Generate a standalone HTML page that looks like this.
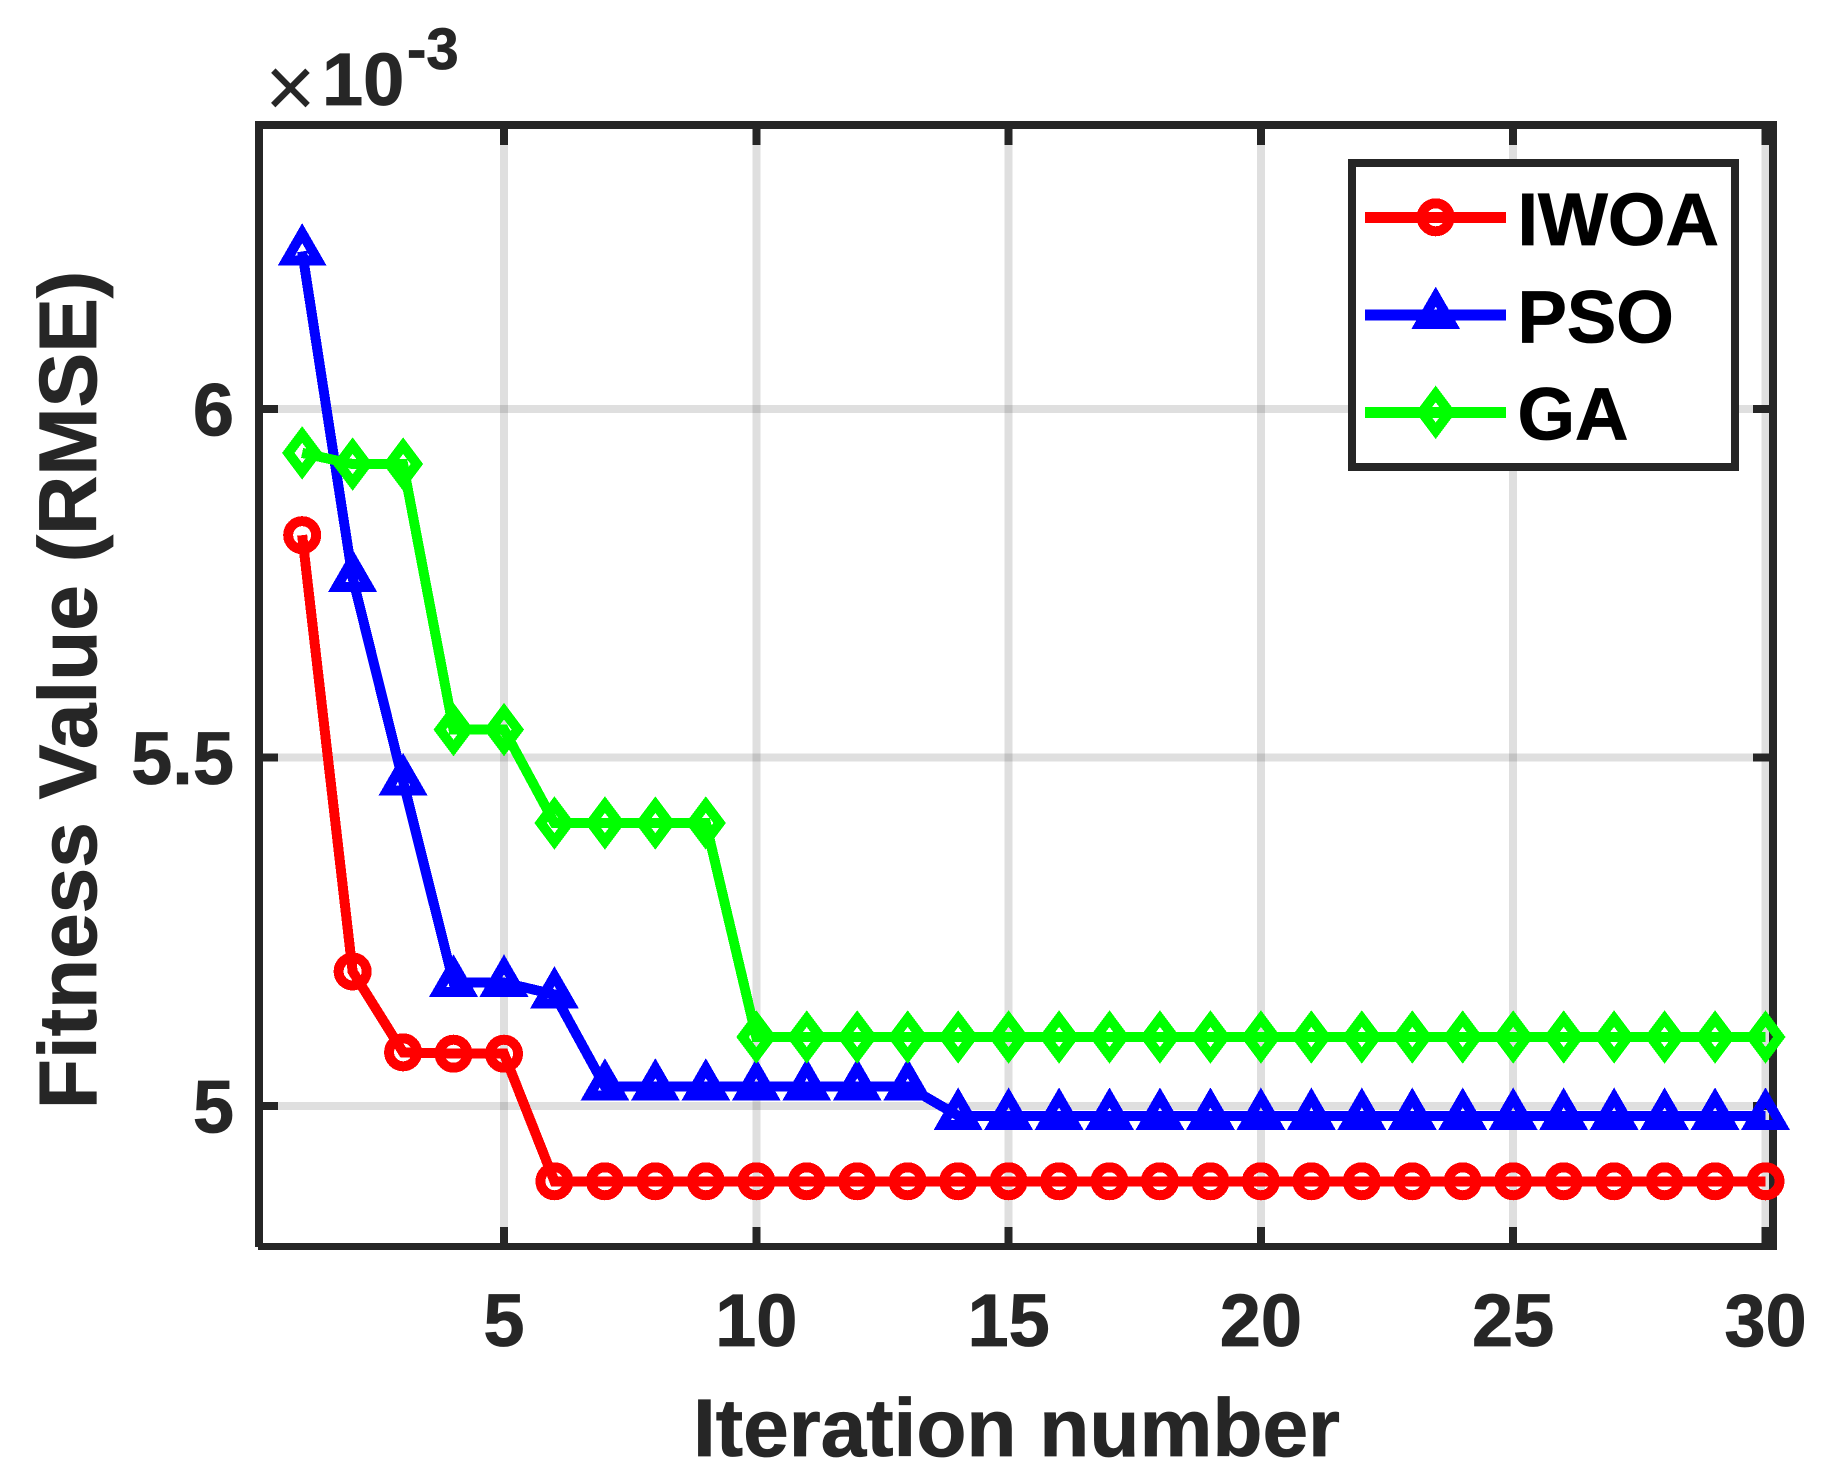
<!DOCTYPE html>
<html lang="en">
<head>
<meta charset="utf-8">
<title>Fitness Value vs Iteration number</title>
<style>
html,body{margin:0;padding:0;background:#fff;width:1831px;height:1480px;overflow:hidden}
svg{display:block}
text{font-family:"Liberation Sans",Arial,sans-serif;font-weight:bold;fill:#262626;stroke:#262626;stroke-width:0.8px}
</style>
</head>
<body>
<svg id="chart" xmlns="http://www.w3.org/2000/svg" width="1831" height="1480" viewBox="0 0 1831 1480">
  <g id="grid"></g>
  <g id="axes"></g>
  <g id="series"></g>
  <text x="1016.5" y="1456" font-size="82" text-anchor="middle">Iteration number</text>
  <text transform="translate(96 690) rotate(-90)" font-size="82" text-anchor="middle">Fitness Value (RMSE)</text>
  <text x="265" y="117" font-size="87" style="font-weight:normal;stroke:none">×</text>
  <text x="322" y="105" font-size="74">10</text>
  <text x="407" y="69" font-size="58">-3</text>
  <g id="legend"></g>
</svg>
<script>
const iterations = [1,2,3,4,5,6,7,8,9,10,11,12,13,14,15,16,17,18,19,20,21,22,23,24,25,26,27,28,29,30];
const iwoaValues = [5.819,5.193,5.077,5.075,5.075,4.892,4.892,4.892,4.892,4.892,4.892,4.892,4.892,4.892,4.892,4.892,4.892,4.892,4.892,4.892,4.892,4.892,4.892,4.892,4.892,4.892,4.892,4.892,4.892,4.892];
const psoValues = [6.226,5.758,5.466,5.177,5.177,5.160,5.028,5.028,5.028,5.028,5.028,5.028,5.028,4.986,4.986,4.986,4.986,4.986,4.986,4.986,4.986,4.986,4.986,4.986,4.986,4.986,4.986,4.986,4.986,4.986];
const gaValues = [5.937,5.921,5.921,5.540,5.540,5.406,5.406,5.406,5.406,5.099,5.099,5.099,5.099,5.099,5.099,5.099,5.099,5.099,5.099,5.099,5.099,5.099,5.099,5.099,5.099,5.099,5.099,5.099,5.099,5.099];
const xTickValues = [5,10,15,20,25,30];
const xTickLabels = ['5','10','15','20','25','30'];
const yTickValues = [5,5.5,6];
const yTickLabels = ['5','5.5','6'];
const legendLabels = ['IWOA','PSO','GA'];

const NS = 'http://www.w3.org/2000/svg';
const INK = '#262626';
const xPx = v => 504 + (v - 5) * 50.46;
const yPx = v => 1106 - (v - 5) * 697;

function make(parent, tag, attrs, text) {
  const el = document.createElementNS(NS, tag);
  for (const k in attrs) el.setAttribute(k, attrs[k]);
  if (text !== undefined) el.textContent = text;
  parent.appendChild(el);
  return el;
}
function drawMarker(parent, kind, cx, cy, color) {
  const base = {fill:'none', stroke:color, 'stroke-width':10, 'stroke-miterlimit':10, 'shape-rendering':'crispEdges'};
  if (kind === 'circle') {
    return make(parent, 'circle', Object.assign({cx:cx, cy:cy, r:14}, base));
  }
  const pts = kind === 'triangle'
    ? [[0,-18.3],[15.8,9.14],[-15.8,9.14]]
    : [[0,-18.4],[13.8,0],[0,18.4],[-13.8,0]];
  return make(parent, 'polygon', Object.assign({points:pts.map(p => (cx+p[0])+','+(cy+p[1])).join(' ')}, base));
}

const gridG = document.getElementById('grid');
const axesG = document.getElementById('axes');
const seriesG = document.getElementById('series');
const legendG = document.getElementById('legend');
const chartSvg = document.getElementById('chart');

xTickValues.forEach((v, i) => {
  const g = make(gridG, 'line', {x1:xPx(v), x2:xPx(v), y1:129, y2:1243, stroke:INK, 'stroke-opacity':0.15, 'stroke-width':8, 'shape-rendering':'crispEdges'});
  
  
  const t1 = make(axesG, 'line', {x1:xPx(v), x2:xPx(v), y1:1227, y2:1243, stroke:INK, 'stroke-width':8, 'shape-rendering':'crispEdges'});
  
  
  const t2 = make(axesG, 'line', {x1:xPx(v), x2:xPx(v), y1:129, y2:145, stroke:INK, 'stroke-width':8, 'shape-rendering':'crispEdges'});
  
  
  const lab = make(axesG, 'text', {x:xPx(v), y:1346, 'font-size':74, 'text-anchor':'middle'}, xTickLabels[i]);
  
  
});
yTickValues.forEach((v, i) => {
  const g = make(gridG, 'line', {x1:263, x2:1769, y1:yPx(v), y2:yPx(v), stroke:INK, 'stroke-opacity':0.15, 'stroke-width':8, 'shape-rendering':'crispEdges'});
  
  
  const t1 = make(axesG, 'line', {x1:263, x2:278, y1:yPx(v), y2:yPx(v), stroke:INK, 'stroke-width':8, 'shape-rendering':'crispEdges'});
  
  
  const t2 = make(axesG, 'line', {x1:1753, x2:1769, y1:yPx(v), y2:yPx(v), stroke:INK, 'stroke-width':8, 'shape-rendering':'crispEdges'});
  
  
  const lab = make(axesG, 'text', {x:234, y:yPx(v)+26.5, 'font-size':74, 'text-anchor':'end'}, yTickLabels[i]);
  
  
});

const spineLeft = make(axesG, 'rect', {x:255, y:121, width:8, height:1126, fill:INK, 'shape-rendering':'crispEdges'});


const spineBottom = make(axesG, 'rect', {x:258, y:1243, width:1519, height:7, fill:INK, 'shape-rendering':'crispEdges'});


const spineTop = make(axesG, 'rect', {x:255, y:121, width:1522, height:8, fill:INK, 'shape-rendering':'crispEdges'});


const spineRight = make(axesG, 'rect', {x:1769, y:121, width:8, height:1129, fill:INK, 'shape-rendering':'crispEdges'});



function drawSeries(values, color, kind) {
  const g = make(seriesG, 'g', {});
  
  
  const line = make(g, 'polyline', {
    points: values.map((v, i) => xPx(iterations[i]) + ',' + yPx(v)).join(' '),
    fill:'none', stroke:color, 'stroke-width':10, 'stroke-linejoin':'miter', 'shape-rendering':'crispEdges'
  });
  
  
  values.forEach((v, i) => {
    const m = drawMarker(g, kind, xPx(iterations[i]), yPx(v), color);
    
    
  });
}
drawSeries(iwoaValues, '#ff0000', 'circle');
drawSeries(psoValues, '#0000ff', 'triangle');
drawSeries(gaValues, '#00ff00', 'diamond');

const legendBox = make(legendG, 'rect', {x:1352, y:163, width:383, height:304, fill:'#fff', stroke:INK, 'stroke-width':8, 'shape-rendering':'crispEdges'});


const legendColors = ['#ff0000','#0000ff','#00ff00'];
const legendKinds = ['circle','triangle','diamond'];
const legendRows = [217.3, 315, 412.3];
const legendBaselines = [245, 342.7, 439.7];
legendLabels.forEach((name, i) => {
  const row = make(legendG, 'g', {});
  
  
  const ln = make(row, 'line', {x1:1365, x2:1506, y1:legendRows[i], y2:legendRows[i], stroke:legendColors[i], 'stroke-width':11, 'shape-rendering':'crispEdges'});
  
  
  const mk = drawMarker(row, legendKinds[i], 1435.7, legendRows[i], legendColors[i]);
  
  
  const tx = make(row, 'text', {x:1517.5, y:legendBaselines[i], 'font-size':74, style:'fill:#000;stroke:#000'}, name);
  
  
});
</script>
</body>
</html>
